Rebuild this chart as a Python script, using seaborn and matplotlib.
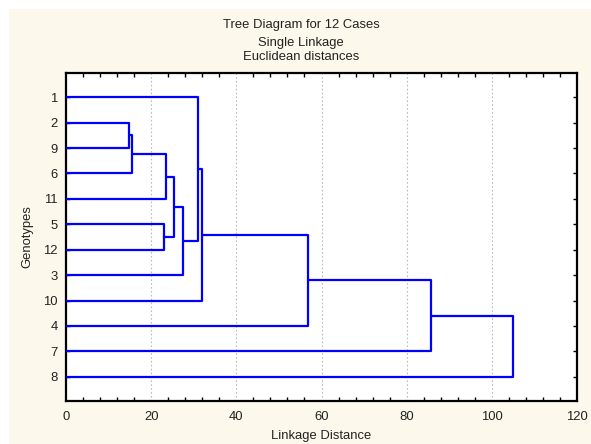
import matplotlib
matplotlib.use("Agg")
import matplotlib.pyplot as plt
from matplotlib.patches import Rectangle
from matplotlib.ticker import MultipleLocator
import seaborn as sns
import pandas as pd

# ---- data ----
leaf_order = ["1", "2", "9", "6", "11", "5", "12", "3", "10", "4", "7", "8"]
merge_ids = ["C1", "C2", "C3", "C4", "C5", "C6", "C7", "C8", "C9", "C10", "C11"]
merge_a = ["2", "C1", "C2", "5", "C3", "C5", "1", "C7", "C8", "C9", "C10"]
merge_b = ["9", "6", "11", "12", "C4", "3", "C6", "10", "4", "7", "8"]
merge_dist = [14.7, 15.4, 23.6, 23.0, 25.4, 27.4, 31.0, 32.0, 56.9, 85.6, 105.0]
x_ticks = [0, 20, 40, 60, 80, 100, 120]

# ---- build dendrogram paths ----
pos = {lab: i + 1 for i, lab in enumerate(leaf_order)}
height = {lab: 0.0 for lab in leaf_order}
rows = []
for k, (cid, a, b, d) in enumerate(zip(merge_ids, merge_a, merge_b, merge_dist)):
    pts = [(height[a], pos[a]), (d, pos[a]), (d, pos[b]), (height[b], pos[b])]
    for j, (x, y) in enumerate(pts):
        rows.append({"seg": k, "order": j, "x": x, "y": y})
    pos[cid] = (pos[a] + pos[b]) / 2.0
    height[cid] = d
df = pd.DataFrame(rows)

sns.set_theme(style="white")
plt.rcParams["font.family"] = ["Liberation Sans", "DejaVu Sans"]

FS = 9.4
TC = "#222222"

fig = plt.figure(figsize=(5.91, 4.44), dpi=100)
fig.patch.set_facecolor("white")
fig.patches.append(Rectangle((9 / 591, 0), 1 - 9 / 591, 1 - 9 / 444,
                             transform=fig.transFigure, facecolor="#FDF8EC",
                             edgecolor="none", zorder=-10))

W, H = 591, 444
l, r, t, b = 66, 577, 73, 401
ax = fig.add_axes([l / W, 1 - b / H, (r - l) / W, (b - t) / H])
ax.set_facecolor("white")

for xv in [20, 40, 60, 80, 100]:
    ax.axvline(xv, color="#BBBBBB", lw=0.8, ls=(0, (1.5, 2)), zorder=0)

sns.lineplot(data=df, x="x", y="y", units="seg", estimator=None, sort=False,
             color="#0000FF", lw=1.6, ax=ax, legend=False, zorder=3)

ax.set_xlim(0, 120)
ax.set_ylim(12.95, 0.05)
ax.set_xticks(x_ticks)
ax.set_xticklabels([str(v) for v in x_ticks], fontsize=FS, color=TC)
ax.xaxis.set_minor_locator(MultipleLocator(4))
ax.set_yticks(range(1, len(leaf_order) + 1))
ax.set_yticklabels(leaf_order, fontsize=FS, color=TC)
ax.tick_params(axis="both", which="both", direction="in", top=True, right=True,
               left=True, bottom=True, length=3, width=1, color="black", pad=6)
ax.tick_params(axis="x", which="major", length=0.01, pad=7)
ax.tick_params(axis="x", which="minor", length=3)
for s in ax.spines.values():
    s.set_color("black")
    s.set_linewidth(1.6)

ax.set_xlabel("Linkage Distance", fontsize=FS, color=TC, labelpad=5)
ax.set_ylabel("Genotypes", fontsize=FS, color=TC, labelpad=7)

cx = 301 / W
fig.text(cx, 1 - 25 / H, "Tree Diagram for 12 Cases", ha="center", va="center",
         fontsize=FS, color=TC)
fig.text(cx, 1 - 43 / H, "Single Linkage", ha="center", va="center",
         fontsize=FS, color=TC)
fig.text(cx, 1 - 57 / H, "Euclidean distances", ha="center", va="center",
         fontsize=FS, color=TC)

fig.savefig("out.png", dpi=100, facecolor=fig.get_facecolor())
